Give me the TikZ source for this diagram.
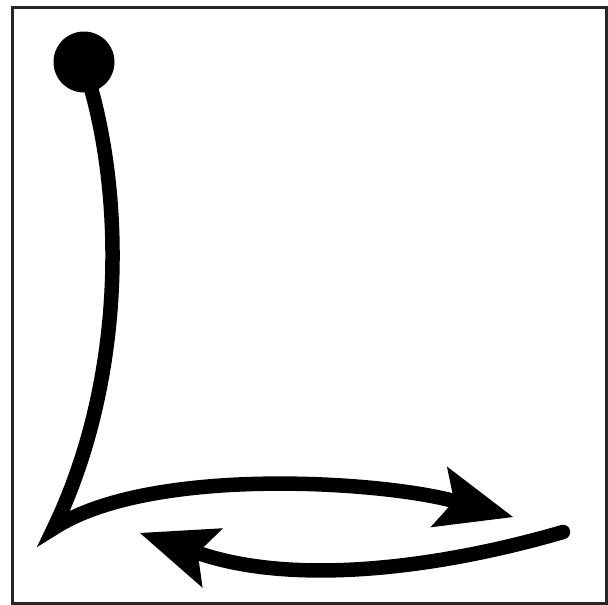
\documentclass[tikz,border=0pt]{standalone}
\usetikzlibrary{arrows.meta}
\begin{document}
\begin{tikzpicture}[x=1pt,y=-1pt,
  stroke/.style={line width=14.5pt, black},
  bigtip/.style={-{Stealth[length=77pt,width=63pt,inset=16pt,line width=0pt]}},
  frame/.style={line width=3pt, black!85}]
\useasboundingbox (0,0) rectangle (608,605);
\draw[frame] (12,7) rectangle (606,603);
\node (dot) [circle, fill=black, minimum size=61pt, inner sep=0pt] at (84,62) {};
\coordinate (start) at (88,78);
\coordinate (corner) at (54,528);
\coordinate (tipA) at (513,517);
\coordinate (tailB) at (563,532);
\coordinate (tipB) at (140,533);
\draw[stroke, line join=miter, bigtip] (start) .. controls (125,200) and (125,380) .. (corner)
  .. controls (150,466) and (380,481) .. (tipA);
\draw[stroke, line cap=round, bigtip] (tailB) .. controls (450,565) and (300,588) .. (tipB);
\end{tikzpicture}
\end{document}
